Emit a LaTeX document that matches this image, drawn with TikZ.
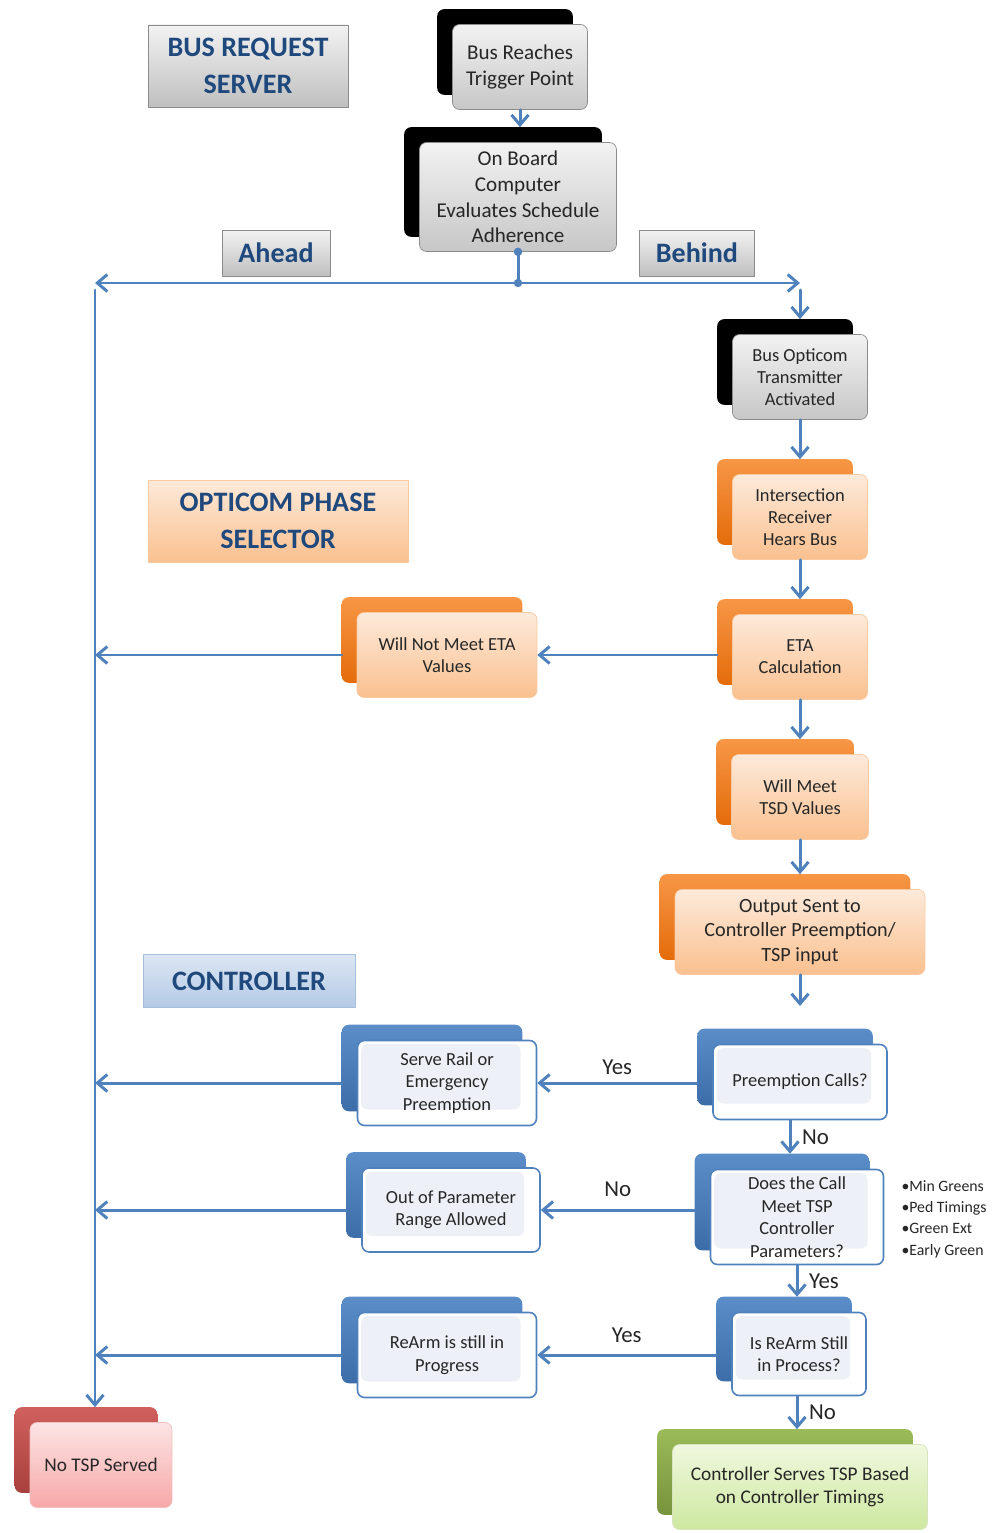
\documentclass[tikz,border=0pt]{standalone}
\usepackage{fontspec}
\setmainfont{Carlito}
\usetikzlibrary{arrows.meta}
\usetikzlibrary{backgrounds}
\definecolor{lnblue}{HTML}{4F81BD}
\definecolor{hdtext}{HTML}{1F497D}
\definecolor{boxtext}{HTML}{262626}
\definecolor{ortop}{HTML}{FDEADA}
\definecolor{orbot}{HTML}{FAC08F}
\definecolor{oredge}{HTML}{F9C89F}
\definecolor{blin}{HTML}{EDF1F7}
\definecolor{grtop}{HTML}{F0F8DE}
\definecolor{grbot}{HTML}{CDE8A0}
\definecolor{gredge}{HTML}{D7E4BD}
\definecolor{rdtop}{HTML}{FCE4E4}
\definecolor{rdbot}{HTML}{F7A8A8}
\definecolor{rdedge}{HTML}{F2BEBE}
\definecolor{bkortop}{HTML}{F79646}
\definecolor{bkorbot}{HTML}{E46C0A}
\definecolor{bkbltop}{HTML}{5B8DC9}
\definecolor{bkblbot}{HTML}{3C6DA8}
\definecolor{bkgrtop}{HTML}{9BBB59}
\definecolor{bkgrbot}{HTML}{77933C}
\definecolor{bkrdtop}{HTML}{D0605D}
\definecolor{bkrdbot}{HTML}{A8403D}
\definecolor{hbltop}{HTML}{DCE6F2}
\definecolor{hblbot}{HTML}{B4CAE6}
\definecolor{hbledge}{HTML}{A6BFDD}

\begin{document}
\begin{tikzpicture}[x=0.02cm,y=0.02cm,line cap=round,line join=round,
  ln/.style={draw=lnblue,line width=1.7pt},
  arr/.style={ln,-{Straight Barb[length=2mm,width=3.4mm]}},
  box/.style={rounded corners=4pt,align=center,inner sep=2pt,text=boxtext,minimum height=1.7cm},
  gbox/.style={box,top color=white!95!black,bottom color=white!78!black,draw=white!55!black,font=\fontsize{12}{14.6}\selectfont},
  obox/.style={box,top color=ortop,bottom color=orbot,draw=oredge,font=\fontsize{10.5}{12.6}\selectfont},
  bbox/.style={box,fill=white,draw=lnblue,line width=0.9pt,font=\fontsize{10.5}{12.8}\selectfont,
    path picture={\fill[blin] ([shift={(2pt,-2pt)}]path picture bounding box.north west) rectangle ([shift={(-9pt,9pt)}]path picture bounding box.south east);}},
  grbox/.style={box,top color=grtop,bottom color=grbot,draw=gredge,font=\fontsize{11}{13}\selectfont},
  rbox/.style={box,top color=rdtop,bottom color=rdbot,draw=rdedge,font=\fontsize{11}{13}\selectfont},
  bk/.style={rounded corners=4pt},
  bkgray/.style={bk,fill=black},
  bkorange/.style={bk,top color=bkortop,bottom color=bkorbot},
  bkblue/.style={bk,top color=bkbltop,bottom color=bkblbot},
  bkgreen/.style={bk,top color=bkgrtop,bottom color=bkgrbot},
  bkred/.style={bk,top color=bkrdtop,bottom color=bkrdbot},
  hdr/.style={align=center,text=hdtext,font=\bfseries\fontsize{16}{21}\selectfont,inner sep=2pt},
  hgray/.style={hdr,top color=white!95!black,bottom color=white!75!black,draw=white!55!black},
  yn/.style={text=boxtext,font=\fontsize{13}{15}\selectfont,inner sep=1pt}]
\useasboundingbox (0,0) rectangle (993,-1533);
%
% section headers
\node[hgray,minimum width=4cm,minimum height=1.64cm] (hbus) at (248,-66) {BUS REQUEST\\SERVER};
\node[hdr,top color=ortop,bottom color=orbot,draw=oredge,minimum width=5.2cm,minimum height=1.64cm] (hopt) at (278,-521) {OPTICOM PHASE\\SELECTOR};
\node[hdr,top color=hbltop,bottom color=hblbot,draw=hbledge,minimum width=4.24cm,minimum height=1.06cm] (hctl) at (249,-981) {CONTROLLER};
\node[hgray,minimum width=2.16cm,minimum height=0.92cm] (ahead) at (276,-253) {Ahead};
\node[hgray,minimum width=2.3cm,minimum height=0.92cm] (behind) at (697,-253) {Behind};
%
% bus request server
\node[gbox,minimum width=2.7cm] (trig) at (520,-67) {Bus Reaches\\Trigger Point};
\node[gbox,minimum width=3.94cm,minimum height=2.18cm] (obc) at (518,-197) {On Board\\Computer\\Evaluates Schedule\\Adherence};
\node[gbox,minimum width=2.7cm,font=\fontsize{10.5}{12.6}\selectfont] (opt) at (800,-377) {Bus Opticom\\Transmitter\\Activated};
%
% opticom phase selector
\node[obox,minimum width=2.7cm] (rcv) at (800,-517) {Intersection\\Receiver\\Hears Bus};
\node[obox,minimum width=2.7cm] (eta) at (800,-657) {ETA\\Calculation};
\node[obox,minimum width=3.6cm] (nomeet) at (447,-655) {Will Not Meet ETA\\Values};
\node[obox,minimum width=2.74cm] (meet) at (800,-797) {Will Meet\\TSD Values};
\node[obox,minimum width=5cm,font=\fontsize{11.5}{13.9}\selectfont] (out) at (800,-932) {Output Sent to\\Controller Preemption/\\TSP input};
%
% controller
\node[bbox,minimum width=3.48cm,minimum height=1.5cm] (pre) at (800,-1082) {Preemption Calls?};
\node[bbox,minimum width=3.58cm] (rail) at (447,-1083) {Serve Rail or\\Emergency\\Preemption};
\node[bbox,minimum width=3.46cm,minimum height=1.9cm] (tspq) at (797,-1217) {Does the Call\\Meet TSP\\Controller\\Parameters?};
\node[bbox,minimum width=3.56cm,minimum height=1.68cm] (oop) at (451,-1210) {Out of Parameter\\Range Allowed};
\node[bbox,minimum width=2.68cm,minimum height=1.66cm] (rearm) at (799,-1354) {Is ReArm Still\\in Process?};
\node[bbox,minimum width=3.58cm] (rprog) at (447,-1355) {ReArm is still in\\Progress};
\node[grbox,minimum width=5.1cm] (final) at (800,-1487) {Controller Serves TSP Based\\on Controller Timings};
\node[rbox,minimum width=2.84cm] (notsp) at (101,-1465) {No TSP Served};
\node[text=boxtext,align=left,font=\fontsize{9}{12.2}\selectfont,inner sep=0pt] (crit) at (944,-1219) {•Min Greens\\•Ped Timings\\•Green Ext\\•Early Green};
%
% back plates
\begin{scope}[on background layer]
\foreach \n/\s in {trig/bkgray,obc/bkgray,opt/bkgray,rcv/bkorange,eta/bkorange,nomeet/bkorange,meet/bkorange,out/bkorange,pre/bkblue,rail/bkblue,tspq/bkblue,oop/bkblue,rearm/bkblue,rprog/bkblue,final/bkgreen,notsp/bkred}
  \path[\s] ([shift={(-15,15)}]\n.south west) rectangle ([shift={(-15,15)}]\n.north east);
\end{scope}
%
% connectors
\coordinate (j) at (obc.south |- 0,-283);
\coordinate (lft) at (95,-283);
\coordinate (rgt) at (800,-283);
\coordinate (nt) at ([yshift=3mm]notsp.north);
\coordinate (outend) at (800,-1006);
\draw[arr] (trig.south) -- ([yshift=3mm]trig.south |- obc.north);
\draw[ln] (obc.south) -- (j);
\fill[lnblue] (obc.south) circle (2.4pt) (j) circle (2.4pt);
\draw[arr] (j) -- (lft);
\draw[arr] (j) -- (rgt);
\draw[arr] ([yshift=-1.4mm]rgt) -- ([yshift=3mm]opt.north);
\draw[arr] ([yshift=-1.4mm]lft) -- (lft |- nt);
%
\draw[arr] (opt.south) -- ([yshift=3mm]rcv.north);
\draw[arr] (rcv.south) -- ([yshift=3mm]eta.north);
\draw[arr] ([xshift=-3mm]eta.west |- nomeet.east) -- (nomeet.east);
\draw[arr] ([xshift=-3mm]nomeet.west) -- (nomeet.west -| lft);
\draw[arr] (eta.south) -- ([yshift=3mm]meet.north);
\draw[arr] (meet.south) -- ([yshift=3mm]out.north);
\draw[arr] (out.south) -- (outend);
%
\draw[arr] ([xshift=-3mm]pre.west |- rail.east) -- (rail.east) node[yn,midway,above=3pt] (y1) {Yes};
\draw[arr] ([xshift=-3mm]rail.west) -- (rail.west -| lft);
\draw[arr] (pre.south -| 790,0) -- ([yshift=3mm]tspq.north -| 790,0) node[yn,midway,right=5pt] (n1) {No};
\draw[arr] ([xshift=-3mm]tspq.west |- oop.east) -- (oop.east) node[yn,midway,above=6pt] (n2) {No};
\draw[arr] ([xshift=-3mm]oop.west) -- (oop.west -| lft);
\draw[arr] (tspq.south) -- ([yshift=3mm]rearm.north -| tspq.south) node[yn,midway,right=5pt] (y2) {Yes};
\draw[arr] ([xshift=-3mm]rearm.west |- rprog.east) -- (rprog.east) node[yn,midway,above=5pt] (y3) {Yes};
\draw[arr] ([xshift=-3mm]rprog.west) -- (rprog.west -| lft);
\draw[arr] (rearm.south -| tspq.south) -- ([yshift=3mm]final.north -| tspq.south) node[yn,midway,right=5pt] (n3) {No};
\end{tikzpicture}
\end{document}
